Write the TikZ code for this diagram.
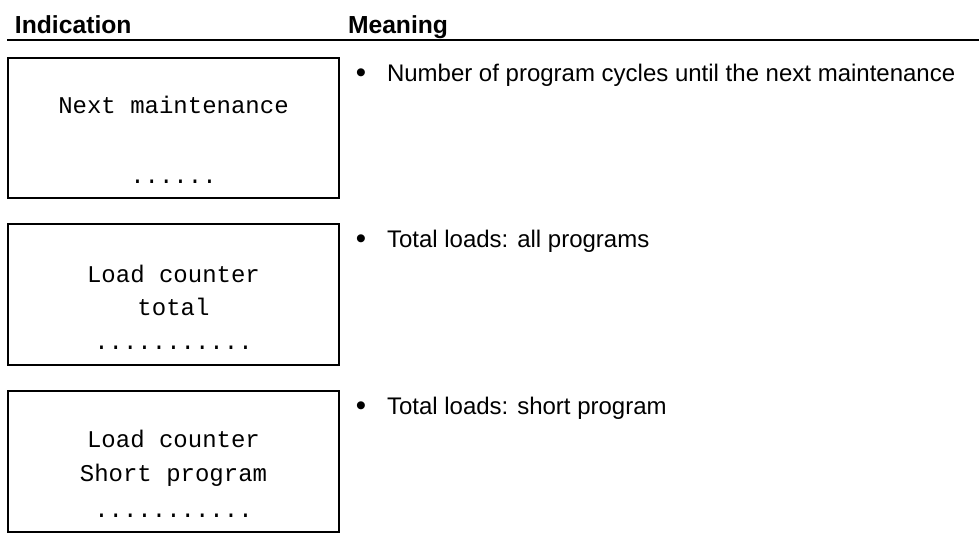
\documentclass[tikz,border=0pt]{standalone}
\usepackage{fontspec}
\setmainfont{Liberation Sans}
\newfontfamily\dispfont{Liberation Mono}
\begin{document}
\begin{tikzpicture}[x=0.75pt,y=-0.75pt,
  txt/.style={inner sep=0pt,outer sep=0pt,font=\fontsize{18}{22}\selectfont},
  head/.style={txt,anchor=base west,font=\fontsize{18.5}{22}\selectfont\bfseries},
  meaning/.style={txt,anchor=base west},
  bul/.style={txt,anchor=base,font=\fontsize{22}{22}\selectfont},
  disp/.style={txt,anchor=base,font=\fontsize{18}{22}\selectfont\dispfont},
  dispbox/.style={draw,line width=1.5pt,minimum width=248.25pt,inner sep=0pt},
  rule/.style={line width=1.6pt}]
\useasboundingbox (0,0) rectangle (979,550);
% header
\node[head] (hind) at (15,33) {Indication};
\node[head] (hmean) at (348,33) {Meaning};
\coordinate (rl) at (7,40);
\coordinate (rr) at (979,40);
\draw[rule] (rl) -- (rr);
% boxes
\node[dispbox,minimum height=105pt] (b1) at (173.5,128) {};
\node[dispbox,minimum height=105.75pt] (b2) at (173.5,294.5) {};
\node[dispbox,minimum height=106.1pt] (b3) at (173.5,461.25) {};
% box 1 texts
\node[disp] (t1a) at (173.5,113) {Next maintenance};
\node[disp] (t1b) at (173.5,183) {......};
% box 2 texts
\node[disp] (t2a) at (173.5,282) {Load counter};
\node[disp] (t2b) at (173.5,315) {total};
\node[disp] (t2c) at (173.5,349) {...........};
% box 3 texts
\node[disp] (t3a) at (173.5,447) {Load counter};
\node[disp] (t3b) at (173.5,481) {Short program};
\node[disp] (t3c) at (173.5,517) {...........};
% meanings
\node[bul] (d1) at (361,82) {•};
\node[meaning] (m1) at (387,81) {Number of program cycles until the next maintenance};
\node[bul] (d2) at (361,248) {•};
\node[meaning] (m2) at (387,247) {Total loads: all programs};
\node[bul] (d3) at (361,415) {•};
\node[meaning] (m3) at (387,414) {Total loads: short program};
\end{tikzpicture}
\end{document}
